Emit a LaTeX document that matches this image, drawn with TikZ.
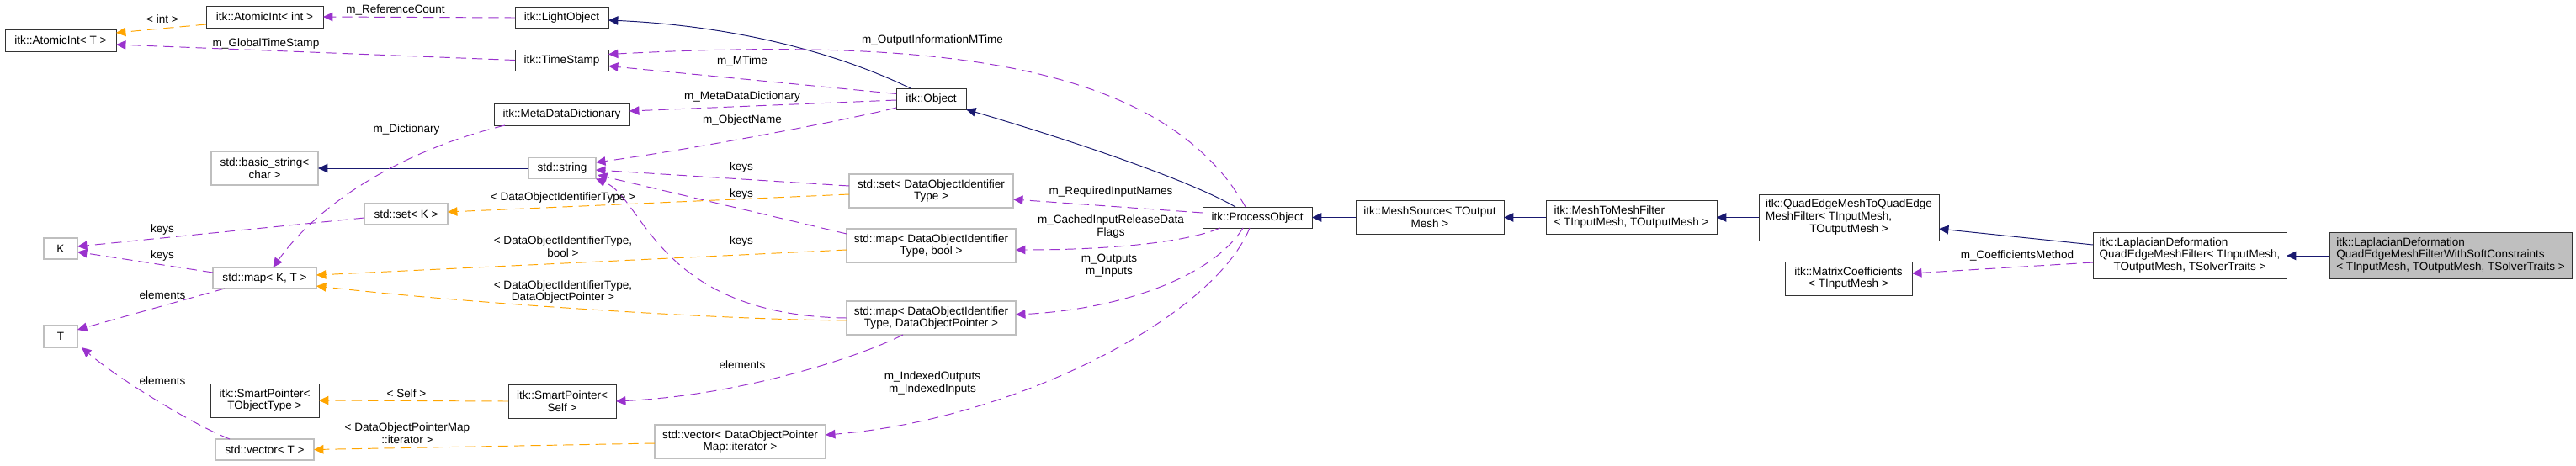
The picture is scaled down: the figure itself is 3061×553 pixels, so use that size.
\documentclass[tikz,border=0pt]{standalone}
\usepackage{fontspec}
\setmainfont{Liberation Sans}
\usepackage{xcolor}
\usepackage{tikz}
\usetikzlibrary{arrows.meta,calc}
\definecolor{inhblue}{RGB}{25,25,112}
\definecolor{usepurple}{RGB}{154,50,205}
\definecolor{tplorange}{RGB}{255,165,0}
\definecolor{extgray}{RGB}{191,191,191}
\definecolor{curgray}{RGB}{191,191,191}
% first lines flush left, last line centred
\newcommand{\lstk}[2]{\begin{tabular}{@{}l@{}}#1\\\multicolumn{1}{@{}c@{}}{#2}\end{tabular}}

\begin{document}
\begin{tikzpicture}[
  x=0.2mm, y=-0.2mm,
  font=\fontsize{7.7pt}{8.5pt}\selectfont,
  >={Triangle[length=6.5pt,width=6pt]},
  every node/.style={align=center},
  wh/.style 2 args = {minimum width=#1*0.2mm, minimum height=#2*0.2mm},
  base/.style    = {draw, inner sep=0pt, outer sep=0pt, fill=white},
  docbox/.style  = {base, draw=black!80, line width=0.55pt},
  extbox/.style  = {base, draw=extgray, line width=0.75pt},
  curbox/.style  = {docbox, fill=curgray},
  inhline/.style = {->, draw=inhblue, line width=0.55pt},
  useline/.style = {->, draw=usepurple, line width=0.55pt, dash pattern=on 7pt off 4pt},
  tplline/.style = {->, draw=tplorange, line width=0.55pt, dash pattern=on 7pt off 4pt},
  lab/.style     = {inner sep=0pt}
]
\useasboundingbox (0,0) rectangle (3061,553);

% left columns
\node[docbox, wh={132}{26}] (atomT) at (72,48) {itk::AtomicInt< T >};
\node[extbox, wh={40}{25}] (keyK) at (72,295.5) {K};
\node[extbox, wh={40}{26}] (valT) at (72,400) {T};
\node[docbox, wh={139}{26}] (atomInt) at (314.5,20) {itk::AtomicInt< int >};
\node[extbox, wh={127}{40}] (basicStr) at (314.5,200) {std::basic\_string<\\char >};
\node[extbox, wh={123}{25}] (mapKT) at (314.5,330.5) {std::map< K, T >};
\node[docbox, wh={129}{40}] (spTObj) at (314.5,476) {itk::SmartPointer<\\TObjectType >};
\node[extbox, wh={117}{25}] (vecT) at (314.5,534.5) {std::vector< T >};
\node[extbox, wh={99}{25}] (setK) at (482.5,254.5) {std::set< K >};
\node[docbox, wh={111}{25}] (lightObj) at (667.5,21) {itk::LightObject};
\node[docbox, wh={111}{25}] (timeStamp) at (667.5,71.5) {itk::TimeStamp};
\node[docbox, wh={161}{26}] (metaDict) at (667.5,136) {itk::MetaDataDictionary};
\node[extbox, wh={80}{25}] (stdStr) at (668,200) {std::string};
\node[docbox, wh={128}{40}] (spSelf) at (668,477) {itk::SmartPointer<\\Self >};
\node[extbox, wh={203}{40}] (vecIter) at (879.5,525)
  {std::vector< DataObjectPointer\\Map::iterator >};

% middle column
\node[docbox, wh={83}{25}] (object) at (1106.5,117.5) {itk::Object};
\node[extbox, wh={195}{40}] (setDOI) at (1106.5,227)
  {std::set< DataObjectIdentifier\\Type >};
\node[extbox, wh={201}{40}] (mapBool) at (1106.5,292)
  {std::map< DataObjectIdentifier\\Type, bool >};
\node[extbox, wh={201}{40}] (mapPtr) at (1106.5,378)
  {std::map< DataObjectIdentifier\\Type, DataObjectPointer >};

% filter chain
\node[docbox, wh={130}{25}] (procObj) at (1494,258.5) {itk::ProcessObject};
\node[docbox, wh={176}{40}] (meshSrc) at (1699,258.5) {itk::MeshSource< TOutput\\Mesh >};
\node[docbox, wh={203}{40}] (meshFlt) at (1938.5,258.5)
  {\lstk{itk::MeshToMeshFilter}{< TInputMesh, TOutputMesh >}};
\node[docbox, wh={214}{55}] (quadFlt) at (2197,258.5)
  {\lstk{itk::QuadEdgeMeshToQuadEdge\\MeshFilter< TInputMesh,}{TOutputMesh >}};
\node[docbox, wh={151}{40}] (matCoef) at (2196.5,331)
  {itk::MatrixCoefficients\\< TInputMesh >};
\node[docbox, wh={230}{55}] (lapFlt) at (2602,304)
  {\lstk{itk::LaplacianDeformation\\QuadEdgeMeshFilter< TInputMesh,}{TOutputMesh, TSolverTraits >}};
\node[curbox, wh={288}{55}] (softFlt) at (2912,304)
  {\lstk{itk::LaplacianDeformation\\QuadEdgeMeshFilterWithSoftConstraints}{< TInputMesh, TOutputMesh, TSolverTraits >}};

% inheritance
\draw[inhline] ($(object.north west)+(17,0)$) .. controls (985,58) and (860,30) .. ($(lightObj.east)+(0,3)$);
\draw[inhline] ($(procObj.north)+(-26,0)$) .. controls (1420,218) and (1300,175) .. (object.south east);
\draw[inhline] (stdStr.west) -- (basicStr.east);
\draw[inhline] (meshSrc.west) -- (procObj.east);
\draw[inhline] (meshFlt.west) -- (meshSrc.east);
\draw[inhline] (quadFlt.west) -- (meshFlt.east);
\draw[inhline] ($(lapFlt.west)+(0,-13)$) -- ($(quadFlt.east)+(0,13.5)$);
\draw[inhline] (softFlt.west) -- (lapFlt.east);

% members
\draw[useline] (lightObj.west) -- (atomInt.east);
\node[lab] (lRefCnt) at (470,12) {m\_ReferenceCount};
\draw[useline] (timeStamp.west) -- ($(atomT.east)+(0,5)$);
\node[lab] (lGlobTS) at (316,52) {m\_GlobalTimeStamp};
\draw[useline] ($(object.west)+(0,-6)$) -- ($(timeStamp.east)+(0,7)$);
\node[lab] (lMTime) at (882,73) {m\_MTime};
\draw[useline] ($(procObj.north)+(-14,0)$) .. controls (1380,70) and (1100,45) .. ($(timeStamp.east)+(0,-7)$);
\node[lab] (lOutInfo) at (1108,48) {m\_OutputInformationMTime};
\draw[useline] ($(object.west)+(0,1.5)$) -- ($(metaDict.east)+(0,-4)$);
\node[lab] (lMetaDict) at (882,115) {m\_MetaDataDictionary};
\draw[useline] ($(object.south west)+(0,-2)$) .. controls (1010,142) and (820,178) .. ($(stdStr.east)+(0,-7)$);
\node[lab] (lObjName) at (882,143) {m\_ObjectName};
\draw[useline] ($(metaDict.south west)+(13,0)$) .. controls (480,178) and (380,240) .. ($(mapKT.north)+(10,0)$);
\node[lab] (lDict) at (483,154) {m\_Dictionary};
\draw[useline] ($(setK.west)+(0,4.5)$) -- ($(keyK.east)+(0,-2.5)$);
\node[lab] (lKeysA) at (193,273) {keys};
\draw[useline] ($(mapKT.west)+(0,-6.5)$) -- ($(keyK.east)+(0,4)$);
\node[lab] (lKeysB) at (193,304) {keys};
\draw[useline] ($(mapKT.south west)+(14,0)$) -- ($(valT.east)+(0,-8)$);
\node[lab] (lElemA) at (193,351) {elements};
\draw[useline] ($(vecT.north west)+(17,0)$) .. controls (230,505) and (140,450) .. ($(valT.south east)+(5,0)$);
\node[lab] (lElemB) at (193,453) {elements};
\draw[useline] ($(setDOI.west)+(0,-6)$) -- ($(stdStr.east)+(0,2)$);
\node[lab] (lKeysC) at (881,199) {keys};
\draw[useline] ($(mapBool.west)+(0,-14)$) -- ($(stdStr.east)+(2,8)$);
\node[lab] (lKeysD) at (881,231) {keys};
\draw[useline] (mapPtr.west) .. controls (780,375) and (765,235) .. (stdStr.south east);
\node[lab] (lKeysE) at (881,287) {keys};
\draw[useline] ($(procObj.west)+(0,-5.5)$) -- ($(setDOI.east)+(0,10)$);
\node[lab] (lReqIn) at (1320,228) {m\_RequiredInputNames};
\draw[useline] ($(procObj.south west)+(21,0)$) .. controls (1410,288) and (1320,297) .. ($(mapBool.east)+(0,5)$);
\node[lab] (lCached) at (1320,269.5) {m\_CachedInputReleaseData\\Flags};
\draw[useline] ($(procObj.south)+(-17,0)$) .. controls (1440,330) and (1330,368) .. ($(mapPtr.east)+(0,-4)$);
\node[lab] (lOutIn) at (1318,315.5) {m\_Outputs\\m\_Inputs};
\draw[useline] ($(procObj.south)+(-9,0)$) .. controls (1440,380) and (1200,500) .. ($(vecIter.east)+(0,-8)$);
\node[lab] (lIdx) at (1108,455.5) {m\_IndexedOutputs\\m\_IndexedInputs};
\draw[useline] ($(mapPtr.south west)+(67,0)$) .. controls (1020,425) and (880,470) .. (spSelf.east);
\node[lab] (lElemC) at (882,434) {elements};
\draw[useline] ($(lapFlt.west)+(0,8)$) -- ($(matCoef.east)+(0,-6)$);
\node[lab] (lCoef) at (2397,304) {m\_CoefficientsMethod};

% template instances
\draw[tplline] ($(atomInt.west)+(0,9)$) -- ($(atomT.east)+(0,-9)$);
\node[lab] (lInt) at (193,23) {< int >};
\draw[tplline] ($(setDOI.west)+(0,4)$) -- ($(setK.east)+(0,-2.5)$);
\node[lab] (lDOIT) at (669,235) {< DataObjectIdentifierType >};
\draw[tplline] ($(mapBool.west)+(0,5)$) -- ($(mapKT.east)+(0,-3.5)$);
\node[lab] (lDOIbool) at (669,293) {< DataObjectIdentifierType,\\bool >};
\draw[tplline] ($(mapPtr.west)+(0,3)$) .. controls (850,380) and (550,360) .. ($(mapKT.east)+(0,9.5)$);
\node[lab] (lDOIptr) at (669,347) {< DataObjectIdentifierType,\\DataObjectPointer >};
\draw[tplline] (spSelf.west) -- (spTObj.east);
\node[lab] (lSelf) at (483,468) {< Self >};
\draw[tplline] ($(vecIter.west)+(0,2)$) -- (vecT.east);
\node[lab] (lIter) at (484,515.5) {< DataObjectPointerMap\\::iterator >};
\end{tikzpicture}
\end{document}
